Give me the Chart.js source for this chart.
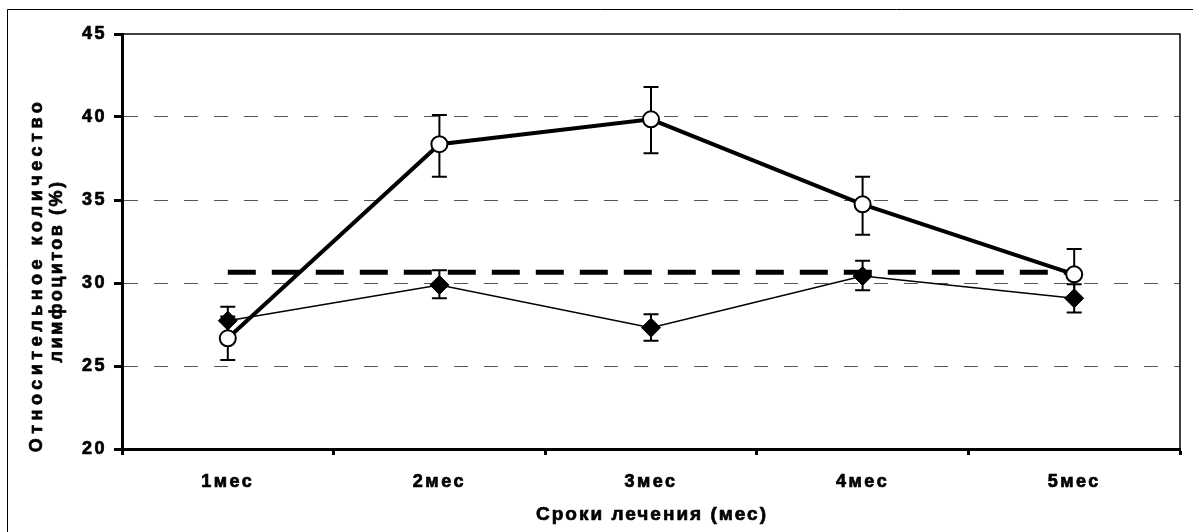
<!DOCTYPE html>
<html><head><meta charset="utf-8">
<script src="https://cdn.jsdelivr.net/npm/chart.js@4"></script>
<style>html,body{margin:0;padding:0;background:#fff}canvas{display:block}</style>
</head><body>
<canvas id="c" width="1193" height="532"></canvas>
<script>
const categories = ['1мес', '2мес', '3мес', '4мес', '5мес'];
const treatedMean = [26.67, 38.36, 39.86, 34.74, 30.52];
const treatedLow  = [25.36, 36.40, 37.81, 32.91, 28.99];
const treatedHigh = [27.98, 40.12, 41.81, 36.40, 32.05];
const controlMean = [27.73, 29.88, 27.31, 30.42, 29.08];
const controlLow  = [26.89, 29.08, 26.52, 29.56, 28.23];
const controlHigh = [28.57, 30.77, 28.11, 31.34, 29.93];
const normValues  = [30.65, 30.65, 30.65, 30.65, 30.65];
const yMin = 20, yMax = 45, yStep = 5;
const xTitle = 'Сроки лечения (мес)';
const yTitleLines = ['Относительное количество', 'лимфоцитов (%)'];

const FONT = '"Liberation Sans", Arial, sans-serif';

const spacingPlugin = {
  id: 'spacing',
  beforeDraw(chart) { chart.ctx.letterSpacing = '2.5px'; }
};

const errorBars = {
  id: 'errorBars',
  beforeDatasetsDraw(chart) {
    const ctx = chart.ctx, xs = chart.scales.x, ys = chart.scales.y;
    ctx.save();
    ctx.strokeStyle = '#000';
    ctx.lineWidth = 2;
    [[treatedLow, treatedHigh], [controlLow, controlHigh]].forEach(([lo, hi]) => {
      categories.forEach((c, i) => {
        const px = xs.getPixelForValue(i);
        const y1 = ys.getPixelForValue(lo[i]);
        const y2 = ys.getPixelForValue(hi[i]);
        ctx.beginPath();
        ctx.moveTo(px, y1); ctx.lineTo(px, y2);
        ctx.moveTo(px - 7.5, y1); ctx.lineTo(px + 7.5, y1);
        ctx.moveTo(px - 7.5, y2); ctx.lineTo(px + 7.5, y2);
        ctx.stroke();
      });
    });
    ctx.restore();
  }
};

function boldText(ctx, s, x, y) {
  ctx.fillText(s, x, y);
  ctx.strokeText(s, x, y);
}

const framePlugin = {
  id: 'frame',
  beforeDatasetsDraw(chart) {
    const ctx = chart.ctx, a = chart.chartArea;
    ctx.save();
    ctx.strokeStyle = '#000';
    ctx.lineWidth = 1.5;
    ctx.beginPath();
    ctx.moveTo(a.left, a.top); ctx.lineTo(a.right, a.top); ctx.lineTo(a.right, a.bottom);
    ctx.stroke();
    ctx.restore();
  },
  afterDraw(chart) {
    const ctx = chart.ctx, a = chart.chartArea;
    ctx.save();
    ctx.strokeStyle = '#000';
    ctx.lineWidth = 1;
    ctx.beginPath();
    ctx.moveTo(7.5, 532); ctx.lineTo(7.5, 9.5); ctx.lineTo(1193, 9.5);
    ctx.stroke();
    ctx.fillStyle = '#000';
    ctx.lineWidth = 0.7;
    ctx.lineJoin = 'round';
    ctx.letterSpacing = '2px';
    ctx.font = 'bold 19px ' + FONT;
    ctx.textAlign = 'center';
    ctx.textBaseline = 'middle';
    boldText(ctx, xTitle, (a.left + a.right) / 2 + 1, 515);
    ctx.letterSpacing = '4.5px';
    ctx.font = 'bold 18px ' + FONT;
    ctx.translate(37, 275);
    ctx.rotate(-Math.PI / 2);
    boldText(ctx, yTitleLines[0], 0, 0);
    ctx.letterSpacing = '2.5px';
    boldText(ctx, yTitleLines[1], 4, 20);
    ctx.restore();
  }
};

new Chart(document.getElementById('c'), {
  type: 'line',
  data: {
    labels: categories,
    datasets: [
      {
        data: treatedMean,
        borderColor: '#000', borderWidth: 4,
        pointStyle: 'circle', pointRadius: 8, pointBorderWidth: 2,
        pointBackgroundColor: '#fff', pointBorderColor: '#000',
        tension: 0
      },
      {
        data: controlMean,
        borderColor: '#000', borderWidth: 1.5,
        pointStyle: 'rectRot', pointRadius: 9.5, pointBorderWidth: 1,
        pointBackgroundColor: '#000', pointBorderColor: '#000',
        tension: 0
      },
      {
        data: normValues,
        borderColor: '#000', borderWidth: 5, borderDash: [28, 16],
        borderCapStyle: 'butt',
        pointRadius: 0, tension: 0
      }
    ]
  },
  options: {
    responsive: false,
    animation: false,
    devicePixelRatio: 1,
    layout: { padding: { left: 0, top: 34, right: 13, bottom: 0 } },
    plugins: { legend: { display: false }, tooltip: { enabled: false } },
    scales: {
      x: {
        type: 'category',
        offset: true,
        afterFit(s) { s.height = 83; },
        grid: { offset: true, drawOnChartArea: false, drawTicks: true, tickLength: 6, tickWidth: 3, tickColor: '#000' },
        border: { display: true, width: 3, color: '#000' },
        ticks: { color: '#000', textStrokeColor: '#000', textStrokeWidth: 0.7,
                 font: { family: FONT, size: 18, weight: 'bold' }, padding: 16, maxRotation: 0 }
      },
      y: {
        min: yMin, max: yMax,
        afterFit(s) { s.width = 122; },
        grid: {
          color: (c) => (c.tick && (c.tick.value === yMin || c.tick.value === yMax)) ? 'rgba(0,0,0,0)' : '#555',
          lineWidth: 1, drawTicks: true, tickLength: 8, tickWidth: 3, tickColor: '#000'
        },
        border: { display: true, width: 3, color: '#000', dash: [14, 16] },
        ticks: { stepSize: yStep, color: '#000', textStrokeColor: '#000', textStrokeWidth: 0.7,
                 font: { family: FONT, size: 18, weight: 'bold' }, padding: 7 }
      }
    }
  },
  plugins: [spacingPlugin, errorBars, framePlugin]
});
</script>
</body></html>
